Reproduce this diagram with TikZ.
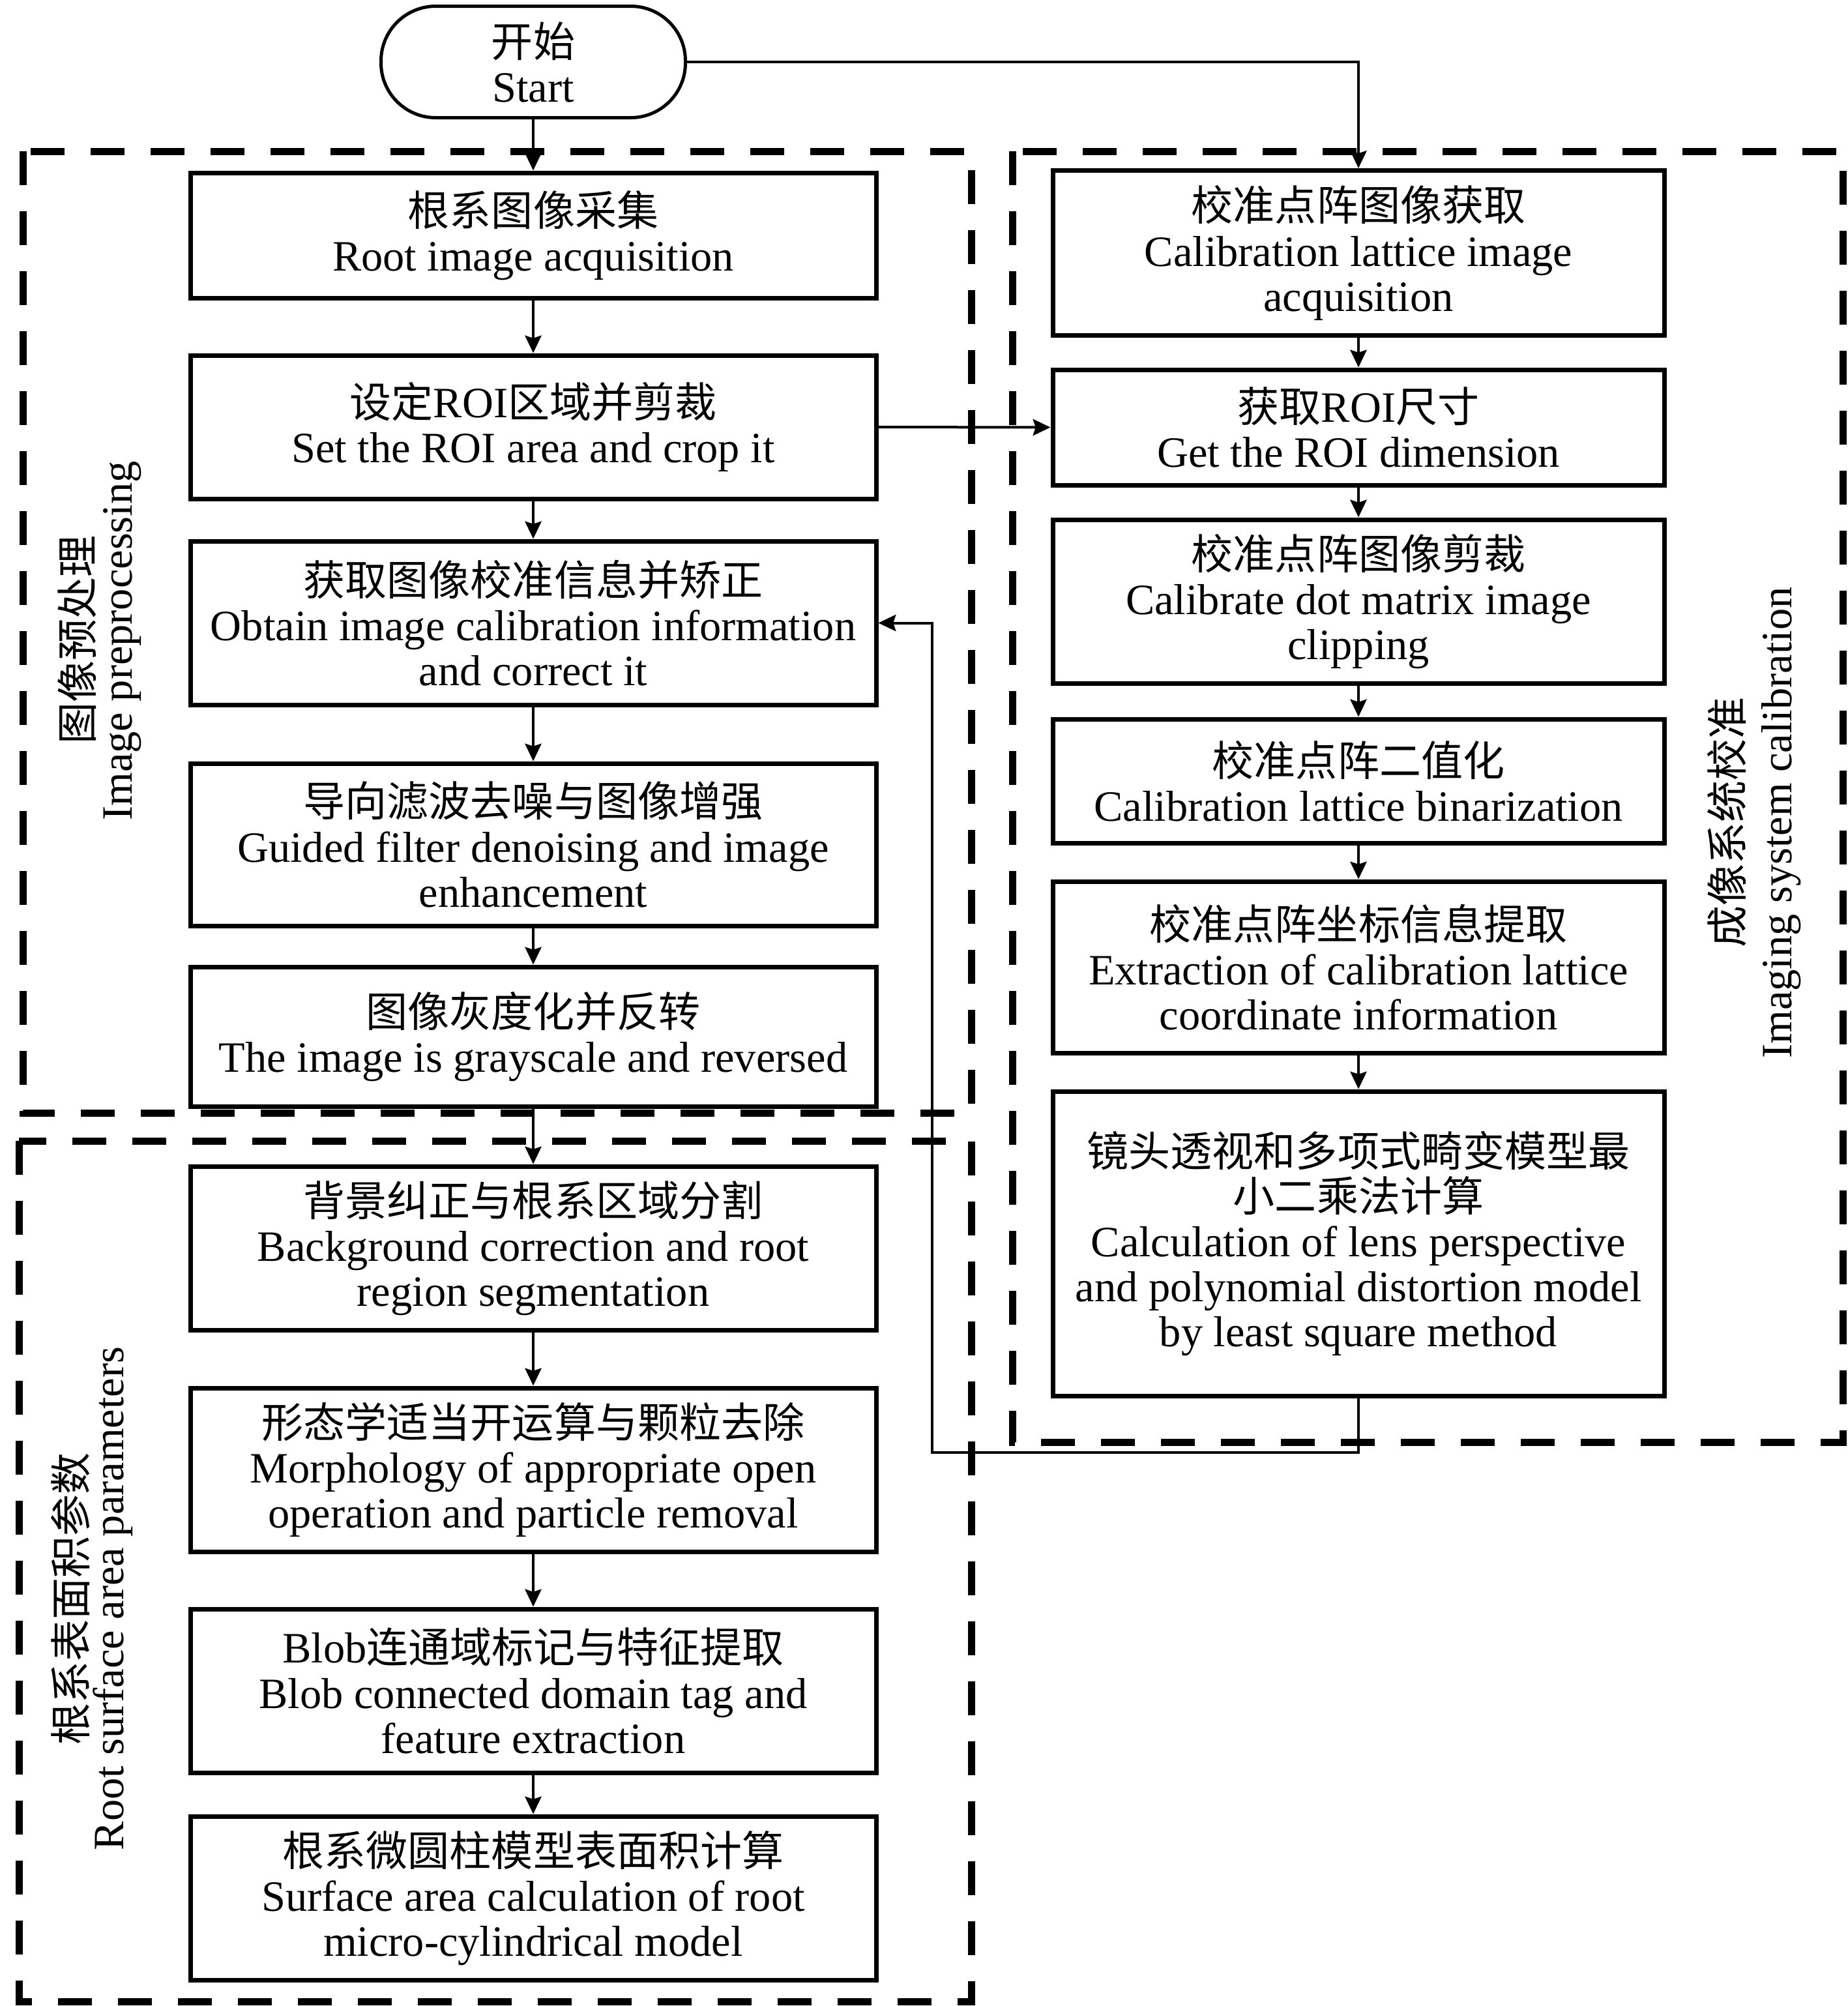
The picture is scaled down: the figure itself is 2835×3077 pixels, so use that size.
\documentclass[tikz,border=0pt]{standalone}
\usepackage{fontspec}
\setmainfont{Liberation Serif}
\newfontfamily\cjk[Scale=0.964]{Noto Sans CJK SC}
\newcommand\zh[1]{{\cjk #1}}
\usetikzlibrary{arrows.meta}
\begin{document}
\begin{tikzpicture}[x=0.25pt,y=-0.25pt,
  box/.style={draw, line width=1.75pt, fill=white, align=center, inner sep=2pt,
    font=\fontsize{16.6}{17.3}\selectfont},
  lbox/.style={box, minimum width=263pt},
  rbox/.style={box, minimum width=234.5pt},
  startbox/.style={draw, line width=1.25pt, fill=white, rounded corners=21pt, align=center,
    minimum width=116.75pt, minimum height=42.75pt, inner sep=2pt,
    font=\fontsize{16.6}{17.3}\selectfont},
  grp/.style={draw, line width=2.75pt, dash pattern=on 13pt off 10pt},
  glabel/.style={rotate=90, anchor=center, inner sep=0pt, font=\fontsize{16.6}{17.3}\selectfont},
  arr/.style={line width=1pt, -{Stealth[length=6.7pt,width=6.3pt,inset=1pt]}},
  ln/.style={line width=1pt}
]
\useasboundingbox (0,0) rectangle (2835,3077);

% dashed groups
\draw[grp] (35,232) rectangle (1490,1707);
\draw[grp] (29,1750) rectangle (1490,3070);
\draw[grp] (1553,232) rectangle (2827,2212);

% group labels
\node[glabel] (g1zh) at (118,981) {\zh{图像预处理}};
\node[glabel] (g1en) at (188,983) {Image preprocessing};
\node[glabel] (g2zh) at (108,2452) {\zh{根系表面积参数}};
\node[glabel] (g2en) at (173,2452) {Root surface area parameters};
\node[glabel] (g3zh) at (2649,1261) {\zh{成像系统校准}};
\node[glabel] (g3en) at (2733,1262) {Imaging system calibration};

% start
\node[startbox] (start) at (818,95) {\zh{开始}\\Start};

% left column
\node[lbox, minimum height=48pt] (L1) at (818,361) {\zh{根系图像采集}\\Root image acquisition};
\node[lbox, minimum height=55pt] (L2) at (818,655) {\zh{设定}ROI\zh{区域并剪裁}\\Set the ROI area and crop it};
\node[lbox, minimum height=62.75pt] (L3) at (818,955.5) {\zh{获取图像校准信息并矫正}\\Obtain image calibration information\\and correct it};
\node[lbox, minimum height=62.25pt] (L4) at (818,1295.5) {\zh{导向滤波去噪与图像增强}\\Guided filter denoising and image\\enhancement};
\node[lbox, minimum height=53.5pt] (L5) at (818,1590) {\zh{图像灰度化并反转}\\The image is grayscale and reversed};
\node[lbox, minimum height=62.75pt] (L6) at (818,1914.5) {\zh{背景纠正与根系区域分割}\\Background correction and root\\region segmentation};
\node[lbox, minimum height=62.75pt] (L7) at (818,2254.5) {\zh{形态学适当开运算与颗粒去除}\\Morphology of appropriate open\\operation and particle removal};
\node[lbox, minimum height=62.75pt] (L8) at (818,2593.5) {Blob\zh{连通域标记与特征提取}\\Blob connected domain tag and\\feature extraction};
\node[lbox, minimum height=62.75pt] (L9) at (818,2911.5) {\zh{根系微圆柱模型表面积计算}\\Surface area calculation of root\\micro-cylindrical model};

% right column
\node[rbox, minimum height=63.25pt] (R1) at (2084,388) {\zh{校准点阵图像获取}\\Calibration lattice image\\acquisition};
\node[rbox, minimum height=44.25pt] (R2) at (2084,655.5) {\zh{获取}ROI\zh{尺寸}\\Get the ROI dimension};
\node[rbox, minimum height=62.75pt] (R3) at (2084,922.5) {\zh{校准点阵图像剪裁}\\Calibrate dot matrix image\\clipping};
\node[rbox, minimum height=47.5pt] (R4) at (2084,1198) {\zh{校准点阵二值化}\\Calibration lattice binarization};
\node[rbox, minimum height=65.75pt] (R5) at (2084,1483.5) {\zh{校准点阵坐标信息提取}\\Extraction of calibration lattice\\coordinate information};
\node[rbox, minimum height=116.75pt] (R6) at (2084,1907.5) {\zh{镜头透视和多项式畸变模型最}\\\zh{小二乘法计算}\\Calculation of lens perspective\\and polynomial distortion model\\by least square method};

% connectors
\draw[arr] (start.south) -- (L1.north);
\draw[arr] (L1.south) -- (L2.north);
\draw[arr] (L2.south) -- (L3.north);
\draw[arr] (L3.south) -- (L4.north);
\draw[arr] (L4.south) -- (L5.north);
\draw[arr] (L5.south) -- (L6.north);
\draw[arr] (L6.south) -- (L7.north);
\draw[arr] (L7.south) -- (L8.north);
\draw[arr] (L8.south) -- (L9.north);

\draw[arr] (start.east) -| (R1.north);
\draw[arr] (L2.east) -- (R2.west);

\draw[arr] (R1.south) -- (R2.north);
\draw[arr] (R2.south) -- (R3.north);
\draw[arr] (R3.south) -- (R4.north);
\draw[arr] (R4.south) -- (R5.north);
\draw[arr] (R5.south) -- (R6.north);

\coordinate (fb) at (1430,2228);
\draw[arr] (R6.south) |- (fb) |- (L3.east);
\end{tikzpicture}
\end{document}
